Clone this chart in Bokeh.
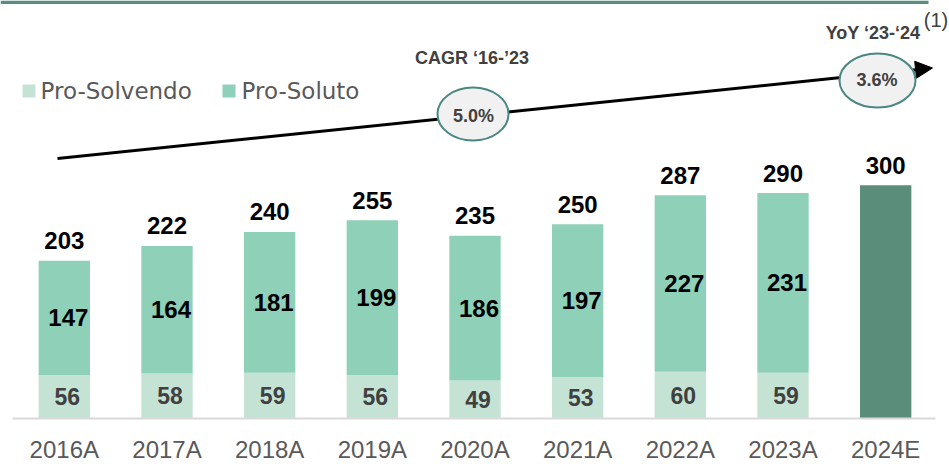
from bokeh.plotting import figure
from bokeh.models import ColumnDataSource, FactorRange, Range1d, Arrow, NormalHead
from bokeh.core.properties import value
from bokeh.embed import file_html
from bokeh.resources import INLINE

# ---------------- data ----------------
years = ["2016A", "2017A", "2018A", "2019A", "2020A", "2021A", "2022A", "2023A", "2024E"]
actual_years = ["2016A", "2017A", "2018A", "2019A", "2020A", "2021A", "2022A", "2023A"]
pro_solvendo = [56, 58, 59, 56, 49, 53, 60, 59]
pro_soluto = [147, 164, 181, 199, 186, 197, 227, 231]
estimate_years = ["2024E"]
estimate_total = [300]
series_names = ["Pro-Solvendo", "Pro-Soluto"]
cagr_label = "CAGR \u201816-\u201923"
cagr_value = "5.0%"
yoy_label = "YoY \u201823-\u201824"
yoy_value = "3.6%"
footnote = "(1)"

totals = [a + b for a, b in zip(pro_solvendo, pro_soluto)] + estimate_total

# ---------------- styling / layout ----------------
C_LIGHT = "#C5E3D5"
C_MID = "#8FD0B8"
C_DARK = "#5B8E7A"
C_BAND = "#5A8E80"
C_TXT = "#404040"
C_GREY = "#595959"

W, H = 949, 464
K = 0.7775          # px per unit
BASE = 418          # picture y of zero line
PAD = 0.1216        # factor padding on each side
STEP = W / (len(years) + 2 * PAD)


def dy(py):
    return (BASE - py) / K


def sx(px):
    return px / STEP - PAD


p = figure(
    x_range=FactorRange(*years, range_padding=PAD, range_padding_units="absolute"),
    y_range=Range1d(dy(H), dy(0)),
    width=W, height=H,
    min_border_left=0, min_border_right=0, min_border_top=0, min_border_bottom=0,
    output_backend="svg", toolbar_location=None,
    x_axis_location=None, y_axis_location=None,
)
p.outline_line_color = None
p.grid.visible = False
p.background_fill_color = "white"

# top band
p.quad(left=[sx(0)], right=[sx(928)], top=[dy(0)], bottom=[dy(3.5)],
       fill_color=C_BAND, line_color=None)

# bars
src = ColumnDataSource(dict(
    x=actual_years,
    solv=pro_solvendo,
    solu_top=[a + b for a, b in zip(pro_solvendo, pro_soluto)],
    solv_mid=[a / 2 for a in pro_solvendo],
    solu_mid=[a + b / 2 for a, b in zip(pro_solvendo, pro_soluto)],
    solv_txt=[str(v) for v in pro_solvendo],
    solu_txt=[str(v) for v in pro_soluto],
))
p.vbar(x="x", bottom=0, top="solv", width=0.5, source=src,
       fill_color=C_LIGHT, line_color=None)
p.vbar(x="x", bottom="solv", top="solu_top", width=0.5, source=src,
       fill_color=C_MID, line_color=None)
p.vbar(x=estimate_years, bottom=0, top=estimate_total, width=0.5,
       fill_color=C_DARK, line_color=None)

# baseline
p.segment(x0=[sx(12)], x1=[sx(935)], y0=[0], y1=[0], line_color="#D9D9D9", line_width=2)

# segment labels
p.text(x="x", y="solv_mid", text="solv_txt", source=src, x_offset=3,
       text_align="center", text_baseline="middle",
       text_font=value("Liberation Sans"), text_font_style="bold",
       text_font_size="23px", text_color=C_TXT)
p.text(x="x", y="solu_mid", text="solu_txt", source=src, x_offset=4,
       text_align="center", text_baseline="middle",
       text_font=value("Liberation Sans"), text_font_style="bold",
       text_font_size="24px", text_color="black")

# totals
p.text(x=years, y=totals, text=[str(t) for t in totals], y_offset=-20,
       text_align="center", text_baseline="middle",
       text_font=value("Liberation Sans"), text_font_style="bold",
       text_font_size="24px", text_color="black")

# category labels
p.text(x=years, y=[0] * len(years), text=years, y_offset=31,
       text_align="center", text_baseline="middle",
       text_font=value("Liberation Sans"), text_font_size="24px",
       text_color=C_GREY)

# legend
p.scatter(x=[sx(28.5), sx(228.5)], y=[dy(90.5)] * 2, marker="square", size=13,
          fill_color=[C_LIGHT, C_MID], line_color=None)
p.text(x=[sx(40), sx(241)], y=[dy(90)] * 2, text=series_names,
       text_align="left", text_baseline="middle",
       text_font=value("DejaVu Sans"), text_font_size="23px", text_color=C_GREY)

# trend arrow (beneath callouts)
arrow = Arrow(x_start=sx(57), y_start=dy(158), x_end=sx(932), y_end=dy(67.5),
              line_color="black", line_width=3, level="underlay",
              end=NormalHead(size=17, fill_color="black", line_color="black"))
p.add_layout(arrow)

# callout ellipses
p.ellipse(x=[sx(472.5), sx(877)], y=[dy(113.5), dy(80)], width=[71, 76], height=[53, 54],
          width_units="screen", height_units="screen",
          fill_color="#F1F1F1", line_color="#4A8784", line_width=2)
p.text(x=[sx(473), sx(876.5)], y=[dy(115), dy(79)], text=[cagr_value, yoy_value],
       text_align="center", text_baseline="middle",
       text_font=value("Liberation Sans"), text_font_style="bold",
       text_font_size="18px", text_color=C_TXT)
p.text(x=[sx(471.5), sx(872.5)], y=[dy(57.5), dy(32.5)], text=[cagr_label, yoy_label],
       text_align="center", text_baseline="middle",
       text_font=value("Liberation Sans"), text_font_style="bold",
       text_font_size="18px", text_color=C_TXT)

# footnote marker
p.text(x=[sx(935.5)], y=[dy(19)], text=[footnote],
       text_align="center", text_baseline="middle",
       text_font=value("Liberation Sans"), text_font_size="20px", text_color=C_TXT)

open("out.html", "w").write(file_html(p, INLINE))
